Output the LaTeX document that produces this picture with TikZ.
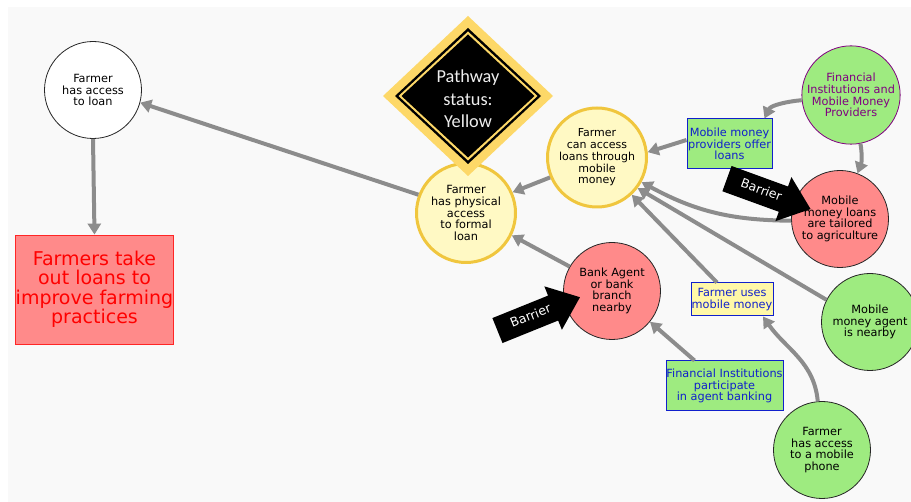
\documentclass[tikz,border=0pt]{standalone}
\usepackage{fontspec}
\setmainfont{DejaVu Sans}
\newfontfamily\statusfont{Carlito}
\usetikzlibrary{arrows.meta,shapes.arrows}

\definecolor{bggray}{HTML}{F9F9F9}
\definecolor{linkgray}{HTML}{8C8C8C}
\definecolor{paleyellow}{HTML}{FFF9C4}
\definecolor{rimgold}{HTML}{F0C63E}
\definecolor{statusgold}{HTML}{FDD868}
\definecolor{salmon}{HTML}{FF8A8A}
\definecolor{leafgreen}{HTML}{9EEB80}
\definecolor{inkblue}{HTML}{1020CC}
\definecolor{plum}{HTML}{800080}
\definecolor{boxyellow}{HTML}{FFF8A8}
\definecolor{lightink}{HTML}{EEEEEE}

\begin{document}
\begin{tikzpicture}[x=1pt,y=-1pt,
  every node/.style={align=center, inner sep=0pt},
  txt/.style={font=\fontsize{11.3}{11.7}\selectfont},
  disc/.style={circle, draw=black!85, line width=0.8pt, minimum size=97pt, txt},
  pathstep/.style={circle, draw=rimgold, fill=paleyellow, line width=3pt, minimum size=99pt, txt},
  problem/.style={disc, fill=salmon},
  enabler/.style={disc, fill=leafgreen},
  action/.style={rectangle, draw=inkblue, line width=1pt, fill=leafgreen, text=inkblue, txt},
  link/.style={draw=linkgray, line width=4pt, -{Triangle[length=11pt,width=13pt]}},
  barrier/.style={single arrow, fill=black, text=white,
    font=\fontsize{12.5}{12.5}\selectfont, minimum height=89pt,
    single arrow head extend=10pt, single arrow tip angle=78,
    text height=9pt, text depth=2.5pt, inner ysep=7.5pt, inner xsep=4pt}
]
\useasboundingbox (0,0) rectangle (911,502);
\fill[bggray] (8,7) rectangle (911,502);

% outcome chain on the left
\node[disc, fill=white, font=\fontsize{11.3}{11.3}\selectfont] (loan) at (93,90)
  {Farmer\\has access\\to loan};
\node[rectangle, draw=red!85, line width=0.8pt, fill=salmon, text=red,
  minimum width=157pt, minimum height=109pt,
  font=\fontsize{19}{19.5}\selectfont] (outcome) at (94.5,289.5)
  {Farmers take\\out loans to\\improve farming\\practices};

% pathway steps
\node[pathstep] (phys) at (466,213)
  {Farmer\\has physical\\access\\to formal\\loan};
\node[pathstep, font=\fontsize{11}{11.7}\selectfont] (mm) at (597,157.5)
  {Farmer\\can access\\loans through\\mobile\\money};

% preconditions
\node[enabler, draw=plum, text=plum] (fimm) at (851,95)
  {Financial\\Institutions and\\Mobile Money\\Providers};
\node[problem] (tailored) at (840,219)
  {Mobile\\money loans\\are tailored\\to agriculture};
\node[problem] (bank) at (612,291)
  {Bank Agent\\or bank\\branch\\nearby};
\node[enabler] (agent) at (870,322)
  {Mobile\\money agent\\is nearby};
\node[enabler] (phone) at (822,450)
  {Farmer\\has access\\to a mobile\\phone};

% actions
\node[action, minimum width=85pt, minimum height=50pt] (offer) at (729.5,144)
  {Mobile money\\providers offer\\loans};
\node[action, fill=boxyellow, minimum width=82pt, minimum height=33pt] (uses) at (732,299.5)
  {Farmer uses\\mobile money};
\node[action, minimum width=117pt, minimum height=50pt] (fipart) at (724.5,386)
  {Financial Institutions\\participate\\in agent banking};

% connectors
\draw[link] (loan.south) -- (outcome.north);
\draw[link] (phys.159) -- (loan.-15);
\draw[link] (mm.203) -- (phys.24);
\draw[link] (bank.150) -- (phys.-26);
\draw[link] ([yshift=4pt]offer.west) -- (mm.6);
\draw[link] (fimm.186) to[out=185,in=65,looseness=0.9] ([xshift=-8pt]offer.north east);
\draw[link] (fimm.-79) to[bend left=15] (tailored.69);
\draw[link] (tailored.182) to[bend left=14] (mm.-29);
\draw[link] (agent.153) -- (mm.-37);
\draw[link] ([xshift=-15pt]uses.north) -- (mm.-47);
\draw[link] ([xshift=-30pt]fipart.north) -- (bank.-39);
\draw[link] (phone.95) to[out=95,in=-55] ([xshift=31pt]uses.south);

% pathway status badge
\fill[statusgold] (468,16) -- (553,96) -- (468,176) -- (383,96) -- cycle;
\fill[black] (468,28) -- (541,96) -- (468,164) -- (395,96) -- cycle;
\fill[statusgold] (468,31.5) -- (537.5,96) -- (468,160.5) -- (398.5,96) -- cycle;
\fill[black] (468,34.5) -- (534.5,96) -- (468,157.5) -- (401.5,96) -- cycle;
\node[text=lightink, font=\statusfont\fontsize{18.3}{22.5}\selectfont] (status) at (468,99)
  {Pathway\\status:\\Yellow};

% barriers
\node[barrier, rotate=-20] (barrierA) at (761,191) {Barrier};
\node[barrier, rotate=22] (barrierB) at (531,317) {Barrier};
\end{tikzpicture}
\end{document}
